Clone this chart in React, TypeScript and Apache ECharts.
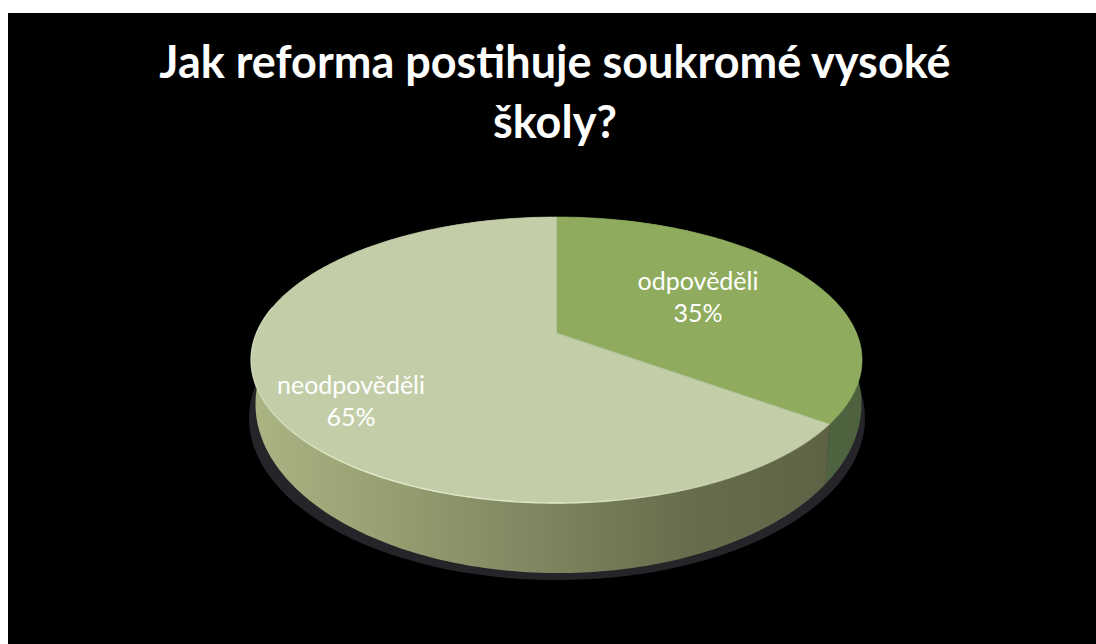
import React, { useEffect, useRef } from "react";
import * as echarts from "echarts";

const categories = ["odpověděli", "neodpověděli"];
const values = [35, 65];
const titleLines = ["Jak reforma postihuje soukromé vysoké", "školy?"];

const topFills = ["#8fac5e", "#c3cda8"];
const labelAnchors = [
  [698, 296],
  [351, 400],
];

// Perspective of the upper and lower rims of the disc.
const TOP_RIM = { cx: 556.5, cy: 333, rx: 300, ry: 137.9, tilt: 0.1888 };
const BOTTOM_RIM = { cx: 558.5, cy: 377, rx: 299.1, ry: 164.7, tilt: 0.16 };

const project = (deg: number, rim: typeof TOP_RIM): number[] => {
  const a = (deg * Math.PI) / 180;
  const u = Math.sin(a);
  const v = -Math.cos(a);
  const den = 1 - rim.tilt * v;
  return [rim.cx + (rim.rx * u) / den, rim.cy + (rim.ry * v) / den];
};

const span = (i: number): number[] => {
  const total = values.reduce((s, v) => s + v, 0);
  const before = values.slice(0, i).reduce((s, v) => s + v, 0);
  return [(before / total) * 360, ((before + values[i]) / total) * 360];
};

const arc = (from: number, to: number, rim: typeof TOP_RIM): number[][] => {
  const out: number[][] = [];
  const n = Math.max(2, Math.ceil(Math.abs(to - from)));
  for (let k = 0; k <= n; k++) out.push(project(from + ((to - from) * k) / n, rim));
  return out;
};

const sideFill = (i: number) =>
  i === 0
    ? new echarts.graphic.LinearGradient(
        822, 0, 863, 0,
        [
          { offset: 0, color: "#566b45" },
          { offset: 0.15, color: "#4e6340" },
          { offset: 1, color: "#4d613f" },
        ],
        true
      )
    : new echarts.graphic.LinearGradient(
        252, 0, 830, 0,
        [
          { offset: 0, color: "#abb483" },
          { offset: 0.25, color: "#969d70" },
          { offset: 0.5, color: "#7f8560" },
          { offset: 0.75, color: "#686d4d" },
          { offset: 1, color: "#5e6346" },
        ],
        true
      );

const renderSide = (params: any) => {
  const i = params.dataIndex;
  const [from, to] = span(i);
  const top = arc(from, to, TOP_RIM);
  const bottom = arc(from, to, BOTTOM_RIM).reverse();
  return {
    type: "polygon",
    shape: { points: [...top, ...bottom] },
    style: { fill: sideFill(i) },
  };
};

const renderTop = (params: any) => {
  const i = params.dataIndex;
  const [from, to] = span(i);
  const rim = arc(from, to, TOP_RIM);
  const children: any[] = [
    {
      type: "polygon",
      shape: { points: [[TOP_RIM.cx, TOP_RIM.cy], ...rim] },
      style: { fill: topFills[i], stroke: topFills[i], lineWidth: 0.6 },
    },
  ];
  if (i === 1) {
    children.push({
      type: "polyline",
      shape: { points: arc(from, Math.min(to, from + 155), TOP_RIM) },
      style: {
        fill: "none",
        lineWidth: 1.4,
        stroke: new echarts.graphic.LinearGradient(
          250, 0, 830, 0,
          [
            { offset: 0, color: "rgba(228,240,205,0.5)" },
            { offset: 0.15, color: "rgba(228,240,205,0.85)" },
            { offset: 0.55, color: "rgba(232,242,212,0.85)" },
            { offset: 1, color: "rgba(215,225,190,0.1)" },
          ],
          true
        ),
      },
    });
  }
  children.push({
    type: "text",
    x: labelAnchors[i][0],
    y: labelAnchors[i][1],
    style: {
      text: `${categories[i]}\n${values[i]}%`,
      fill: "#ffffff",
      font: '25px "Lato"',
      lineHeight: 32,
      align: "center",
      verticalAlign: "middle",
    },
  });
  return { type: "group", children };
};

export default function App() {
  const ref = useRef<HTMLDivElement>(null);
  useEffect(() => {
    const chart = echarts.init(ref.current!, null, { renderer: "svg" });
    const data = values.map((v, i) => ({ name: categories[i], value: v }));
    chart.setOption({
      animation: false,
      backgroundColor: "#ffffff",
      title: {
        text: titleLines.join("\n"),
        left: 550,
        top: 26,
        textAlign: "center",
        textStyle: {
          color: "#ffffff",
          fontFamily: "Lato",
          fontWeight: 700,
          fontSize: 45,
          lineHeight: 60,
        },
      },
      graphic: [
        {
          type: "rect",
          z: -1,
          shape: { x: 8, y: 13, width: 1088, height: 631 },
          style: { fill: "#000000" },
        },
        {
          type: "ellipse",
          z: 0,
          shape: { cx: 557, cy: 418, rx: 308, ry: 162 },
          style: { fill: "#262428" },
        },
      ],
      series: [
        { type: "custom", coordinateSystem: "none", z: 3, data, renderItem: renderSide, silent: true },
        { type: "custom", coordinateSystem: "none", z: 4, data, renderItem: renderTop, silent: true },
      ],
    });
    return () => chart.dispose();
  }, []);
  return <div ref={ref} style={{ position: "fixed", left: 0, top: 0, width: 1096, height: 644 }} />;
}
